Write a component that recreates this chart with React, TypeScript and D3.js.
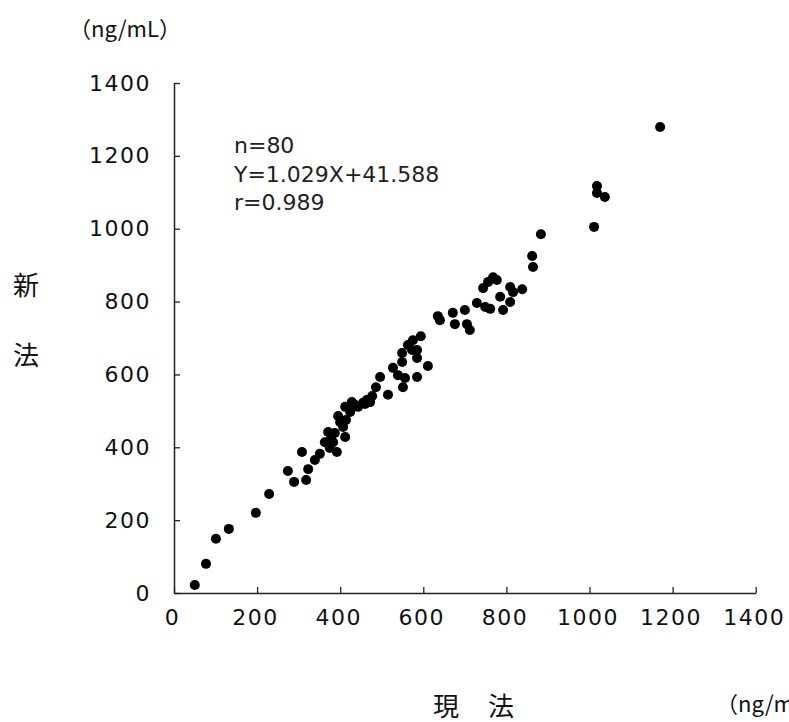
import React, { useEffect, useRef } from 'react';
import * as d3 from 'd3';

// 現法 (x) vs 新法 (y), ng/mL
const currentMethod = [
  50, 77, 101, 132, 197, 229, 274, 289, 308, 318,
  323, 339, 351, 363, 371, 375, 383, 387, 392, 395,
  407, 412, 414, 412, 424, 428, 443, 455, 464, 472,
  477, 486, 496, 515, 527, 539, 549, 549, 551, 556,
  563, 575, 585, 585, 585, 594, 611, 635, 640, 671,
  676, 700, 705, 712, 729, 749, 761, 744, 756, 768,
  785, 792, 809, 816, 809, 838, 862, 864, 883, 1011,
  1018, 1018, 1037, 1170, 400, 378, 436, 460, 777, 573
];
const newMethod = [
  22, 80, 149, 176, 220, 272, 335, 305, 387, 310,
  340, 365, 382, 414, 442, 398, 414, 439, 387, 486,
  456, 428, 475, 511, 497, 524, 511, 522, 530, 524,
  541, 565, 593, 544, 618, 598, 634, 659, 565, 590,
  681, 694, 667, 645, 593, 705, 623, 760, 749, 769,
  738, 777, 738, 722, 796, 785, 780, 837, 854, 867,
  813, 777, 840, 826, 799, 834, 925, 895, 985, 1005,
  1117, 1098, 1087, 1279, 469, 425, 516, 519, 859, 667
];
const tickValues = [0, 200, 400, 600, 800, 1000, 1200, 1400];
const statLines = ['n=80', 'Y=1.029X+41.588', 'r=0.989'];
const unitLabel = '（ng/mL）';
const xTitle = ['現', '法'];
const yTitle = ['新', '法'];

const W = 789;
const H = 722;
const latin = '"DejaVu Sans", sans-serif';
const cjk = '"Noto Sans CJK JP", "DejaVu Sans", sans-serif';

export default function App() {
  const ref = useRef<SVGSVGElement>(null);

  useEffect(() => {
    const svg = d3.select(ref.current);
    svg.selectAll('*').remove();

    const x = d3.scaleLinear().domain([0, 1400]).range([174, 755.7]);
    const y = d3.scaleLinear().domain([0, 1400]).range([593, 83]);
    const fmt = d3.format('d');

    const yAxis = svg.append('g')
      .attr('transform', `translate(${x(0)},0)`)
      .call(d3.axisLeft(y).tickValues(tickValues).tickFormat(fmt).tickSizeInner(-6).tickSizeOuter(0).tickPadding(23));
    const xAxis = svg.append('g')
      .attr('transform', `translate(0,${y(0)})`)
      .call(d3.axisBottom(x).tickValues(tickValues).tickFormat(fmt).tickSizeInner(-6).tickSizeOuter(0).tickPadding(16.5));

    [xAxis, yAxis].forEach(g => {
      g.select('.domain').attr('stroke', '#222').attr('stroke-width', 1.5);
      g.selectAll('.tick line').attr('stroke', '#222').attr('stroke-width', 1.3);
      g.selectAll('.tick text')
        .attr('fill', '#111')
        .style('font-family', latin)
        .style('font-size', '22px')
        .style('letter-spacing', '1.5px');
    });
    xAxis.selectAll('.tick text').attr('dx', -2);

    const pts = currentMethod.map((v, i) => [v, newMethod[i]]);
    svg.append('g')
      .selectAll('circle')
      .data(pts)
      .enter().append('circle')
      .attr('cx', d => x(d[0]))
      .attr('cy', d => y(d[1]))
      .attr('r', 5)
      .attr('fill', '#000');

    svg.append('g')
      .selectAll('text')
      .data(statLines)
      .enter().append('text')
      .attr('x', 234)
      .attr('y', (d, i) => 153 + i * 28.5)
      .attr('fill', '#222')
      .style('font-family', latin)
      .style('font-size', '22px')
      .text(d => d);

    svg.append('text')
      .attr('x', 69).attr('y', 37)
      .attr('fill', '#111')
      .style('font-family', cjk)
      .style('font-size', '22px')
      .text(unitLabel);

    svg.append('text')
      .attr('x', 716).attr('y', 712)
      .attr('fill', '#111')
      .style('font-family', cjk)
      .style('font-size', '22px')
      .text(unitLabel);

    svg.append('g')
      .selectAll('text')
      .data(xTitle)
      .enter().append('text')
      .attr('x', (d, i) => 446 + i * 55)
      .attr('y', 716)
      .attr('text-anchor', 'middle')
      .attr('fill', '#111')
      .style('font-family', cjk)
      .style('font-size', '26px')
      .text(d => d);

    svg.append('g')
      .selectAll('text')
      .data(yTitle)
      .enter().append('text')
      .attr('x', 26)
      .attr('y', (d, i) => 295 + i * 70)
      .attr('text-anchor', 'middle')
      .attr('fill', '#111')
      .style('font-family', cjk)
      .style('font-size', '26px')
      .text(d => d);
  }, []);

  return (
    <div style={{ position: 'absolute', left: 0, top: 0 }}>
      <svg ref={ref} width={W} height={H} style={{ display: 'block', background: '#fff' }} />
    </div>
  );
}
